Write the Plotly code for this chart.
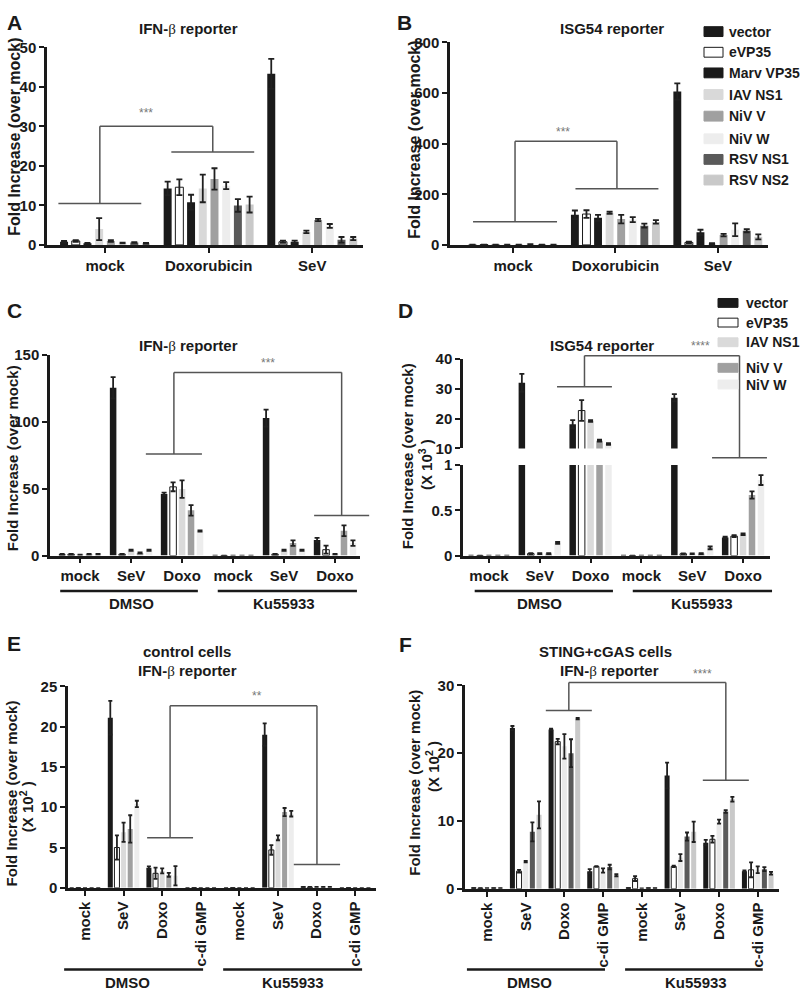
import plotly.graph_objects as go

W, H = 800, 1001
FONT = "Liberation Sans, Arial, Helvetica, sans-serif"
BLACK = "#1a1a1a"

# ---------------- data ----------------
groups_AB = ["mock", "Doxorubicin", "SeV"]
series_AB = ["vector", "eVP35", "Marv VP35", "IAV NS1", "NiV V", "NiV W", "RSV NS1", "RSV NS2"]

# Panel A: IFN-beta reporter (per series: mock, Doxorubicin, SeV)
A_mean = [
    [0.8, 14.3, 43.3],
    [1.0, 14.6, 0.8],
    [0.4, 10.8, 0.8],
    [4.0, 14.3, 3.3],
    [1.0, 16.7, 6.3],
    [0.5, 15.0, 4.8],
    [0.6, 10.0, 1.3],
    [0.4, 10.2, 1.6],
]
A_err = [
    [0.2, 1.7, 3.8],
    [0.2, 2.0, 0.3],
    [0.1, 1.9, 0.3],
    [2.8, 3.5, 0.3],
    [0.2, 2.7, 0.3],
    [0.1, 0.9, 0.5],
    [0.1, 1.6, 0.7],
    [0.1, 2.0, 0.4],
]

# Panel B: ISG54 reporter
B_mean = [
    [1, 119, 606],
    [1, 122, 10],
    [1, 107, 50],
    [1, 127, 5],
    [1, 102, 39],
    [3, 100, 60],
    [1, 76, 56],
    [1, 91, 32],
]
B_err = [
    [0, 17, 32],
    [0, 15, 3],
    [0, 12, 10],
    [0, 4, 2],
    [0, 17, 5],
    [0, 10, 25],
    [0, 8, 6],
    [0, 7, 10],
]

series_CF = ["vector", "eVP35", "IAV NS1", "NiV V", "NiV W"]
groups_CD = ["mock", "SeV", "Doxo", "mock", "SeV", "Doxo"]
groups_EF = ["mock", "SeV", "Doxo", "c-di GMP", "mock", "SeV", "Doxo", "c-di GMP"]
treatments = ["DMSO", "Ku55933"]

# Panel C: IFN-beta reporter, DMSO vs Ku55933
C_mean = [
    [1, 125.5, 46.0, 0, 102.8, 11.7],
    [1, 1, 51.4, 0, 1, 4.4],
    [0.5, 4, 49.7, 0, 4, 1],
    [1, 2, 33.8, 0, 9.3, 18.6],
    [1, 4, 18.4, 0, 4, 9.3],
]
C_err = [
    [0.2, 8, 1, 0, 6.4, 1.5],
    [0.2, 0.3, 3.3, 0, 0.3, 3],
    [0.2, 0.5, 6.6, 0, 0.5, 0.3],
    [0.2, 0.4, 3.9, 0, 2, 4],
    [0.2, 0.5, 0.5, 0, 0.5, 2],
]

# Panel D: ISG54 reporter (x 10^3)
D_mean = [
    [0, 32.0, 18.1, 0, 27.0, 0.2],
    [0, 0.022, 22.7, 0, 0.02, 0.215],
    [0, 0.022, 19.2, 0, 0.02, 0.235],
    [0, 0.022, 12.6, 0, 0.022, 0.67],
    [0, 0.14, 11.5, 0, 0.085, 0.835],
]
D_err = [
    [0, 3.0, 1.4, 0, 1.2, 0.01],
    [0, 0.005, 3.5, 0, 0.005, 0.01],
    [0, 0.005, 0.3, 0, 0.005, 0.01],
    [0, 0.005, 0.3, 0, 0.005, 0.04],
    [0, 0.01, 0.3, 0, 0.015, 0.055],
]

# Panel E: control cells (x 10^2)
E_mean = [
    [0, 21.1, 2.5, 0, 0, 19.0, 0.1, 0],
    [0, 5.0, 1.8, 0, 0, 4.7, 0.1, 0],
    [0, 6.9, 2.1, 0, 0, 6.2, 0.1, 0],
    [0, 7.3, 1.6, 0, 0, 9.4, 0.1, 0],
    [0, 10.4, 1.5, 0, 0, 9.2, 0.1, 0],
]
E_err = [
    [0, 2.1, 0.15, 0, 0, 1.4, 0.02, 0],
    [0, 1.5, 0.7, 0, 0, 0.6, 0.02, 0],
    [0, 1.2, 0.3, 0, 0, 0.3, 0.02, 0],
    [0, 1.7, 0.25, 0, 0, 0.5, 0.02, 0],
    [0, 0.4, 1.2, 0, 0, 0.35, 0.02, 0],
]

# Panel F: STING+cGAS cells (x 10^2)
F_mean = [
    [0.1, 23.7, 23.5, 2.6, 0.1, 16.7, 6.8, 2.6],
    [0.1, 2.6, 21.7, 3.3, 1.5, 3.3, 7.3, 2.8],
    [0.1, 4.0, 21.0, 2.7, 0.05, 4.6, 9.9, 2.8],
    [0.1, 8.4, 20.0, 3.2, 0.1, 7.7, 11.4, 2.9],
    [0.1, 10.9, 25.1, 2.0, 0.1, 8.4, 13.2, 2.3],
]
F_err = [
    [0, 0.3, 0.1, 0.3, 0, 1.9, 0.4, 0.1],
    [0, 0.2, 0.4, 0.05, 0.35, 0.1, 0.5, 1.1],
    [0, 0.1, 1.8, 0.3, 0, 0.5, 0.3, 0.5],
    [0, 1.4, 2.05, 0.35, 0, 0.6, 0.2, 0.3],
    [0, 2.0, 0.1, 0.15, 0, 1.5, 0.35, 0.2],
]

# ---------------- styling ----------------
AB_colors = [BLACK, "white", BLACK, "#d9d9d9", "#a0a0a0", "#ededed", "#5a5a5a", "#c9c9c9"]
CE_colors = [BLACK, "white", "#dadada", "#a0a0a0", "#ededed"]
F_colors = [BLACK, "white", "#e9e9e9", "#5a5a5a", "#c9c9c9"]

PANELS = {
    "A": dict(xa="x", ya="y", px=(47, 363), py=(39, 240), xr=(-0.56, 2.49), yr=(0, 50)),
    "B": dict(xa="x2", ya="y2", px=(450, 768), py=(34, 240), xr=(-0.615, 2.49), yr=(0, 800)),
    "C": dict(xa="x3", ya="y3", px=(50, 360), py=(352, 556), xr=(-0.59, 5.49), yr=(0, 150)),
    "D": dict(xa="x4", ya="y4", px=(463, 770), py=(464, 556), xr=(-0.51, 5.53), yr=(0, 1)),
    "Du": dict(xa="x4", ya="y7", px=(463, 770), py=(356, 447), xr=(-0.51, 5.53), yr=(10, 40)),
    "E": dict(xa="x5", ya="y5", px=(68, 376), py=(689, 894), xr=(-0.44, 7.54), yr=(0, 25)),
    "F": dict(xa="x6", ya="y6", px=(465, 779), py=(688, 895), xr=(-0.57, 7.55), yr=(0, 30)),
}


def pix_x(pn, v):
    x0, x1 = pn["px"]; r0, r1 = pn["xr"]
    return x0 + (v - r0) / (r1 - r0) * (x1 - x0)


def pix_y(pn, v):
    y0, y1 = pn["py"]; r0, r1 = pn["yr"]
    return y1 - (v - r0) / (r1 - r0) * (y1 - y0)


fig = go.Figure()


def add_bars(pn, series, colors, means, errs, bw, step, cap):
    ns = len(series)
    for i, (name, c, m, e) in enumerate(zip(series, colors, means, errs)):
        white = c == "white"
        fig.add_trace(go.Bar(
            x=list(range(len(m))), y=m, width=bw,
            offset=(i - (ns - 1) / 2) * step - bw / 2,
            marker=dict(color=c, line=dict(color=BLACK if white else c, width=1 if white else 0)),
            error_y=dict(type="data", array=e, visible=True, color="#202020", thickness=1.8, width=cap),
            xaxis=pn["xa"], yaxis=pn["ya"], name=name, showlegend=False,
        ))


add_bars(PANELS["A"], series_AB, AB_colors, A_mean, A_err, 0.077, 0.113, 3)
add_bars(PANELS["B"], series_AB, AB_colors, B_mean, B_err, 0.077, 0.113, 3)
add_bars(PANELS["C"], series_CF, CE_colors, C_mean, C_err, 0.128, 0.176, 2.5)
add_bars(PANELS["D"], series_CF, CE_colors, D_mean, D_err, 0.128, 0.176, 2.5)
add_bars(PANELS["Du"], series_CF, CE_colors, D_mean, D_err, 0.128, 0.176, 2.5)
add_bars(PANELS["E"], series_CF, CE_colors, E_mean, E_err, 0.13, 0.172, 2)
add_bars(PANELS["F"], series_CF, F_colors, F_mean, F_err, 0.13, 0.172, 2)

TICKFONT = dict(family=FONT, size=15, color=BLACK, weight="bold")
COMMON = dict(showline=True, linecolor=BLACK, linewidth=2.5, ticks="outside", ticklen=5,
              tickwidth=2, tickcolor=BLACK, showgrid=False, zeroline=False, fixedrange=True,
              tickfont=TICKFONT)

layout_axes = {}


def set_axes(pn, groups=None, ytickvals=None, yticktext=None, tickangle=0):
    xd = [pn["px"][0] / W, pn["px"][1] / W]
    yd = [1 - pn["py"][1] / H, 1 - pn["py"][0] / H]
    if groups is not None:
        layout_axes["xaxis" + pn["xa"][1:]] = dict(
            COMMON, domain=xd, range=list(pn["xr"]), anchor=pn["ya"],
            tickvals=list(range(len(groups))), ticktext=groups, tickangle=tickangle)
    ya = dict(COMMON, domain=yd, range=list(pn["yr"]), anchor=pn["xa"], tickvals=ytickvals)
    if yticktext is not None:
        ya["ticktext"] = yticktext
    layout_axes["yaxis" + pn["ya"][1:]] = ya


set_axes(PANELS["A"], groups_AB, [0, 10, 20, 30, 40, 50])
set_axes(PANELS["B"], groups_AB, [0, 200, 400, 600, 800])
set_axes(PANELS["C"], groups_CD, [0, 50, 100, 150])
set_axes(PANELS["D"], groups_CD, [0, 0.5, 1], ["0", "0.5", "1"])
set_axes(PANELS["Du"], None, [10, 20, 30, 40])
set_axes(PANELS["E"], groups_EF, [0, 5, 10, 15, 20, 25], tickangle=-90)
set_axes(PANELS["F"], groups_EF, [0, 10, 20, 30], tickangle=-90)

shapes = []
annotations = []


def line_px(x0, y0, x1, y1, color, width):
    shapes.append(dict(type="line", xref="paper", yref="paper",
                       x0=x0 / W, x1=x1 / W, y0=1 - y0 / H, y1=1 - y1 / H,
                       line=dict(color=color, width=width)))


def text_px(x, y, s, size=15, color=BLACK, angle=0, xanchor="center", bold=True):
    annotations.append(dict(xref="paper", yref="paper", x=x / W, y=1 - y / H, text=s,
                            showarrow=False, textangle=angle, xanchor=xanchor, yanchor="middle",
                            font=dict(family=FONT, size=size, color=color,
                                      weight="bold" if bold else "normal")))


GRAY = "#555555"


def bracket(pn, l1, l2, ytop, stars, sx, sy):
    for (a, b, y) in (l1, l2):
        line_px(pix_x(pn, a), pix_y(pn, y), pix_x(pn, b), pix_y(pn, y), GRAY, 1.5)
    c1 = pix_x(pn, (l1[0] + l1[1]) / 2)
    c2 = pix_x(pn, (l2[0] + l2[1]) / 2)
    yt = pix_y(pn, ytop)
    line_px(c1, pix_y(pn, l1[2]), c1, yt, GRAY, 1.5)
    line_px(c1, yt, c2, yt, GRAY, 1.5)
    line_px(c2, yt, c2, pix_y(pn, l2[2]), GRAY, 1.5)
    text_px(pix_x(pn, sx), pix_y(pn, sy), stars, size=12, color="#777777", bold=False)


bracket(PANELS["A"], (-0.45, 0.35, 10.5), (0.64, 1.44, 23.5), 30, "***", 0.4, 33.5)
bracket(PANELS["B"], (-0.39, 0.43, 92), (0.61, 1.42, 222), 410, "***", 0.49, 446)
bracket(PANELS["C"], (1.29, 2.39, 76), (4.59, 5.67, 30), 137, "***", 3.69, 144)
bracket(PANELS["Du"], (1.34, 2.42, 30.7), (4.39, 5.47, 6.9), 41.1, "****", 4.17, 44.4)
bracket(PANELS["E"], (1.61, 2.80, 6.2), (5.41, 6.61, 2.9), 22.6, "**", 4.46, 23.8)
bracket(PANELS["F"], (1.52, 2.71, 26.3), (5.58, 6.77, 16.0), 30.4, "****", 5.58, 31.7)


def treatment_bars(pn, spans, centers, yline, ytext):
    for (a, b), c, t in zip(spans, centers, treatments):
        line_px(pix_x(pn, a), yline, pix_x(pn, b), yline, BLACK, 2.5)
        text_px(pix_x(pn, c), ytext, t, size=15)


treatment_bars(PANELS["C"], [(-0.39, 2.31), (2.7, 5.43)], [1.0, 4.0], 592, 605)
treatment_bars(PANELS["D"], [(-0.28, 2.44), (2.83, 5.57)], [1.0, 4.2], 592, 605)
treatment_bars(PANELS["E"], [(-0.54, 3.06), (3.58, 7.18)], [1.1, 5.4], 977, 990)
treatment_bars(PANELS["F"], [(-0.52, 3.05), (3.57, 7.13)], [1.1, 5.4], 977, 990)

BETA = "<span style='font-family:Liberation Serif;font-weight:normal'>β</span>"
IFN = "IFN-" + BETA + " reporter"

# panel titles
text_px(188, 20, IFN)
text_px(612, 20, "ISG54 reporter")
text_px(188, 342, IFN)
text_px(602, 342, "ISG54 reporter")
text_px(187, 654, "control cells")
text_px(187, 673, IFN)
text_px(605, 654, "STING+cGAS cells")
text_px(609, 673, IFN)

# panel letters
for L, x, y in [("A", 14, 14), ("B", 404, 14), ("C", 14, 307), ("D", 405, 307), ("E", 14, 645), ("F", 405, 646)]:
    text_px(x, y, L, size=21)

# y-axis titles
YT = "Fold Increase (over mock)"
text_px(15, 130, YT, size=16, angle=-90)
text_px(415, 133, YT, size=16, angle=-90)
text_px(12, 457, YT, size=15, angle=-90)
text_px(407, 455, YT, size=15, angle=-90)
text_px(425, 464, "(X 10<sup>3</sup> )", size=15, angle=-90)
text_px(11, 798, YT, size=15, angle=-90)
text_px(26, 812, "(X 10<sup>2</sup> )", size=15, angle=-90)
text_px(415, 787, YT, size=15, angle=-90)
text_px(433, 771, "(X 10<sup>2</sup> )", size=15, angle=-90)


# legends
def legend(names, colors, ys, sx0, sx1, tx, h):
    for n, c, y in zip(names, colors, ys):
        shapes.append(dict(type="rect", xref="paper", yref="paper",
                           x0=sx0 / W, x1=sx1 / W, y0=1 - (y + h / 2) / H, y1=1 - (y - h / 2) / H,
                           fillcolor=c, line=dict(color=BLACK if c == "white" else c, width=1)))
        text_px(tx, y, n, size=14, xanchor="left")


legend(series_AB, AB_colors, [23, 44, 65, 87, 109, 132, 153, 174], 704, 723, 727, 10)
legend(series_CF, CE_colors, [299, 319, 339, 365, 382], 718, 738, 744, 9)

fig.update_layout(
    width=W, height=H, margin=dict(l=0, r=0, t=0, b=0),
    plot_bgcolor="white", paper_bgcolor="white", barmode="overlay", showlegend=False,
    shapes=shapes, annotations=annotations, font=dict(family=FONT, color=BLACK),
    **layout_axes,
)

PIN = ("document.body.style.margin='0';"
       "var gd=document.getElementById('{plot_id}');"
       "gd.style.position='absolute';gd.style.left='0px';gd.style.top='0px';")
fig.write_html("out.html", post_script=PIN, config={"displayModeBar": False})
